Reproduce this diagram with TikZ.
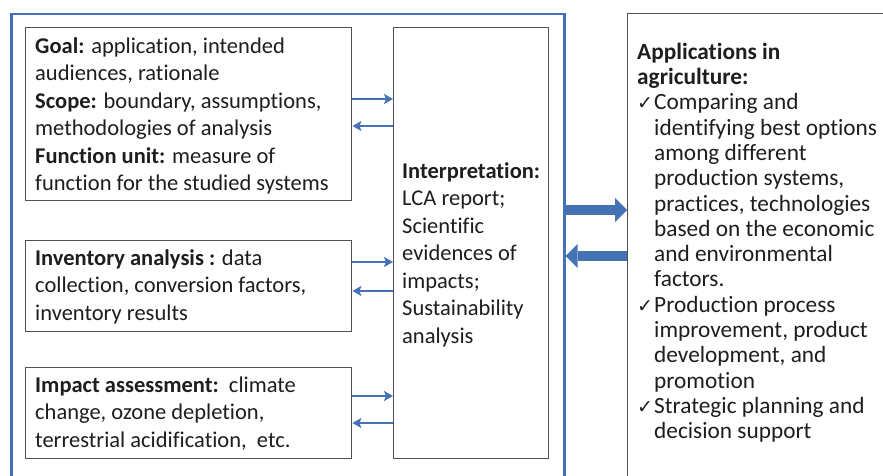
\documentclass[tikz,border=0pt]{standalone}
\usepackage{fontspec}
\setmainfont{Carlito}[Ligatures=NoCommon]
\newfontfamily\symfont{DejaVu Sans}
\usetikzlibrary{arrows.meta}
\definecolor{lcablue}{HTML}{4472B4}
\definecolor{boxgrey}{HTML}{505050}
\definecolor{txt}{HTML}{1E1E1E}
\newcommand\chk{\makebox[17pt][l]{\symfont\fontsize{19}{19}\selectfont ✓}}
\newcommand\ind{\hspace*{17pt}}
\tikzset{
  outerbox/.style={draw=lcablue, line width=2.5pt, rectangle, inner sep=0pt, anchor=north west},
  stagebox/.style={draw=boxgrey, line width=1.4pt, rectangle, inner sep=0pt, anchor=north west},
  lefttext/.style={anchor=north west, inner sep=0pt, align=left, text=txt,
    font=\fontsize{22.5}{27.5}\selectfont},
  righttext/.style={anchor=north west, inner sep=0pt, align=left, text=txt,
    font=\fontsize{23.3}{25.3}\selectfont},
  smallarrow/.style={draw=lcablue, line width=2.8pt, -{Stealth[length=9pt,width=10pt,inset=2pt]}},
  bigarrow/.style={draw=lcablue, line width=10pt, -{Triangle[length=12pt,width=24pt,line width=0pt]}},
}
\begin{document}
\begin{tikzpicture}[x=1pt,y=-1pt]
\useasboundingbox (0,0) rectangle (883,476);
\clip (0,0) rectangle (883,476);
\fill[white] (0,0) rectangle (883,476);
% boxes
\node[outerbox, minimum width=553pt, minimum height=520pt] (outer) at (10,13) {};
\node[stagebox, minimum width=326pt, minimum height=173pt] (goal) at (25,27) {};
\node[stagebox, minimum width=326pt, minimum height=91pt] (inv) at (25,240) {};
\node[stagebox, minimum width=326pt, minimum height=91pt] (imp) at (25,367) {};
\node[stagebox, minimum width=155pt, minimum height=431pt] (interp) at (393,27) {};
\node[stagebox, minimum width=300pt, minimum height=520pt] (apps) at (627,13) {};
% texts
\node[lefttext] (goaltxt) at (35,33.75) {\strut\textbf{Goal:} application, intended\\audiences, rationale\\\textbf{Scope:} boundary, assumptions,\\methodologies of analysis\\\textbf{Function unit:} measure of\\function for the studied systems};
\node[lefttext] (invtxt) at (35,245.75) {\strut\textbf{Inventory analysis :} data\\collection, conversion factors,\\inventory results};
\node[lefttext] (imptxt) at (35,372.75) {\strut\textbf{Impact assessment:}\ \ climate\\change, ozone depletion,\\terrestrial acidification,\ \ etc.};
\node[lefttext] (interptxt) at (402,158.75) {\strut\textbf{Interpretation:}\\LCA report;\\Scientific\\evidences of\\impacts;\\Sustainability\\analysis};
\node[righttext] (appstxt) at (637,41.3) {\strut\textbf{Applications in}\\\textbf{agriculture:}\\\chk Comparing and\\\ind identifying best options\\\ind among different\\\ind production systems,\\\ind practices, technologies\\\ind based on the economic\\\ind and environmental\\\ind factors.\\\chk Production process\\\ind improvement, product\\\ind development, and\\\ind promotion\\\chk Strategic planning and\\\ind decision support};
% levels
\coordinate (ga) at (0,99);
\coordinate (gb) at (0,126);
\coordinate (ia) at (0,262);
\coordinate (ib) at (0,291);
\coordinate (ma) at (0,396);
\coordinate (mb) at (0,423);
\coordinate (ba) at (0,210);
\coordinate (bb) at (0,256);
% small arrows
\draw[smallarrow] (goal.east |- ga) -- (interp.west |- ga);
\draw[smallarrow] (interp.west |- gb) -- (goal.east |- gb);
\draw[smallarrow] (inv.east |- ia) -- (interp.west |- ia);
\draw[smallarrow] (interp.west |- ib) -- (inv.east |- ib);
\draw[smallarrow] (imp.east |- ma) -- (interp.west |- ma);
\draw[smallarrow] (interp.west |- mb) -- (imp.east |- mb);
% big arrows
\draw[bigarrow] (outer.east |- ba) -- (apps.west |- ba);
\draw[bigarrow] (apps.west |- bb) -- (outer.east |- bb);
\end{tikzpicture}
\end{document}
